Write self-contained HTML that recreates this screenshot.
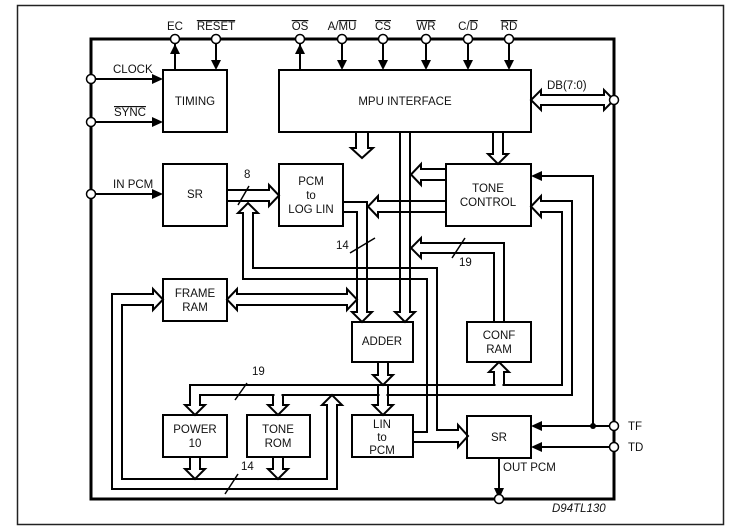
<!DOCTYPE html>
<html><head><meta charset="utf-8"><style>
html,body{margin:0;padding:0;background:#fff}
svg{display:block}
text{font-family:"Liberation Sans",sans-serif;font-size:11.5px;fill:#111}
</style></head><body>
<svg width="737" height="532" viewBox="0 0 737 532" xmlns="http://www.w3.org/2000/svg">
<rect x="17.5" y="5.5" width="706" height="519" fill="none" stroke="#222" stroke-width="1.5"/>
<rect x="91" y="39" width="523" height="460" fill="none" stroke="#000" stroke-width="3"/>
<g fill="none" stroke="#000" stroke-width="2">
<rect x="163" y="70" width="64" height="62" fill="#fff"/>
<rect x="279" y="70" width="252" height="62" fill="#fff"/>
<rect x="163" y="164" width="64" height="62"/>
<rect x="279" y="164" width="64" height="62"/>
<rect x="446" y="164" width="85" height="62"/>
<rect x="163" y="279" width="64" height="42"/>
<rect x="352" y="322" width="61" height="40"/>
<rect x="467" y="322" width="64" height="40"/>
<rect x="163" y="415" width="64" height="42"/>
<rect x="247" y="415" width="63" height="42"/>
<rect x="352" y="415" width="61" height="42"/>
<rect x="467" y="416" width="64" height="42"/>
<path d="M175 43V70M216 43V62M300 43V70M342 43V62M383 43V62M426 43V62M468 43V62M509 43V62"/>
<path d="M95 79H153M95 122H153M95 194H153"/>
<path d="M356 132V148H351L362 158L373 148H368V132"/>
<path d="M493 132V154H488L498 164L508 154H503V132"/>
<path d="M400 132V312H395L405 322L415 312H410V132"/>
<path d="M446 169H421V164L411 174.5L421 185V180H446"/>
<path d="M446 201H378V196L368 206.5L378 217V212H446"/>
<path d="M343 202H367V312H372L362 322L352 312H357V212H343"/>
<path d="M237 294H347V289L357 299.5L347 310V305H237V310L227 299.5L237 289Z"/>
<path d="M227 190H269V185L279 195.5L269 206V201H227"/>
<path d="M413 432H427V279H243V213H238L248 203L258 213H253V268H437V430H458V425L468 436L458 447V442H413"/>
<path d="M494 322V253H421V258L411 248L421 238V243H504V322"/>
<path d="M531 206.5L541 196V201H572V395H200V405H205L195 415L185 405H190V385H562V212H541V217Z"/>
</g>
<g stroke="#fff" stroke-width="3">
<path d="M274.5 395H281.5M379.5 395H386.5M495.5 385H502.5"/>
</g>
<g fill="none" stroke="#000" stroke-width="2">
<path d="M273 395V405H268L278 415L288 405H283V395"/>
<path d="M378 385V405H373L383 415L393 405H388V385"/>
<path d="M378 362V375H373L383 385L393 375H388V362"/>
<path d="M494 385V372H489L499 362L509 372H504V385"/>
<path d="M327 405V479H122V305H153V310L163 299.5L153 289V294H112V489H337V405H342L332 395L322 405Z"/>
<path d="M190 457V469H185L195 479L205 469H200V457"/>
<path d="M273 457V469H268L278 479L288 469H283V457"/>
<path d="M541 95H604V90L614 100L604 110V105H541V110L531 100L541 90Z"/>
<path d="M610 426H541M593 426V176H541M610 447H541M499 458V489"/>
<path d="M238 205L249 186M350 253L375 238M452 258L465 238M235 400L247 383M225 494L238 474" stroke-width="1.5"/>
</g>
<g fill="#000">
<path d="M175 44L170 54H180Z"/><path d="M216 70L211 60H221Z"/><path d="M300 44L295 54H305Z"/>
<path d="M342 70L337 60H347Z"/><path d="M383 70L378 60H388Z"/><path d="M426 70L421 60H431Z"/>
<path d="M468 70L463 60H473Z"/><path d="M509 70L504 60H514Z"/>
<path d="M163 79L152 74V84Z"/><path d="M163 122L152 117V127Z"/><path d="M163 194L152 189V199Z"/>
<path d="M531 426L542 421V431Z"/><path d="M531 447L542 442V452Z"/><path d="M531 176L542 171V181Z"/>
<path d="M499 499L494 488H504Z"/>
<circle cx="593" cy="426" r="3"/>
</g>
<g fill="#fff" stroke="#000" stroke-width="1.5">
<circle cx="175" cy="39" r="4.5"/><circle cx="216" cy="39" r="4.5"/><circle cx="300" cy="39" r="4.5"/>
<circle cx="342" cy="39" r="4.5"/><circle cx="383" cy="39" r="4.5"/><circle cx="426" cy="39" r="4.5"/>
<circle cx="468" cy="39" r="4.5"/><circle cx="509" cy="39" r="4.5"/>
<circle cx="91" cy="79" r="4.5"/><circle cx="91" cy="122" r="4.5"/><circle cx="91" cy="194" r="4.5"/>
<circle cx="614" cy="100" r="4.5"/><circle cx="614" cy="426" r="4.5"/><circle cx="614" cy="447" r="4.5"/>
<circle cx="499" cy="499" r="4.5"/>
</g>
<g text-anchor="middle">
<text x="175" y="30">EC</text>
<text x="216" y="30" text-decoration="overline">RESET</text>
<text x="300" y="30" text-decoration="overline">OS</text>
<text x="342" y="30">A/<tspan text-decoration="overline">MU</tspan></text>
<text x="383" y="30" text-decoration="overline">CS</text>
<text x="426" y="30" text-decoration="overline">WR</text>
<text x="468" y="30">C/<tspan text-decoration="overline">D</tspan></text>
<text x="509" y="30" text-decoration="overline">RD</text>
<text x="195" y="105">TIMING</text>
<text x="405" y="105">MPU INTERFACE</text>
<text x="195" y="198">SR</text>
<text x="311" y="185">PCM</text><text x="311" y="199">to</text><text x="311" y="213">LOG LIN</text>
<text x="488" y="192">TONE</text><text x="488" y="206">CONTROL</text>
<text x="195" y="297">FRAME</text><text x="195" y="311">RAM</text>
<text x="382" y="345">ADDER</text>
<text x="499" y="339">CONF</text><text x="499" y="353">RAM</text>
<text x="195" y="433">POWER</text><text x="195" y="447">10</text>
<text x="278" y="433">TONE</text><text x="278" y="447">ROM</text>
<text x="382" y="428">LIN</text><text x="382" y="441">to</text><text x="382" y="454">PCM</text>
<text x="499" y="441">SR</text>
</g>
<text x="113" y="73">CLOCK</text>
<text x="114" y="116" text-decoration="overline">SYNC</text>
<text x="113" y="188">IN PCM</text>
<text x="547" y="89">DB(7:0)</text>
<text x="628" y="430">TF</text>
<text x="628" y="451">TD</text>
<text x="503" y="471">OUT PCM</text>
<text x="244" y="178" font-size="10">8</text>
<text x="336" y="249" font-size="10">14</text>
<text x="459" y="266" font-size="10">19</text>
<text x="252" y="375" font-size="10">19</text>
<text x="241" y="470" font-size="10">14</text>
<text x="552" y="512" font-size="8.5" font-style="italic">D94TL130</text>
</svg>
</body></html>
